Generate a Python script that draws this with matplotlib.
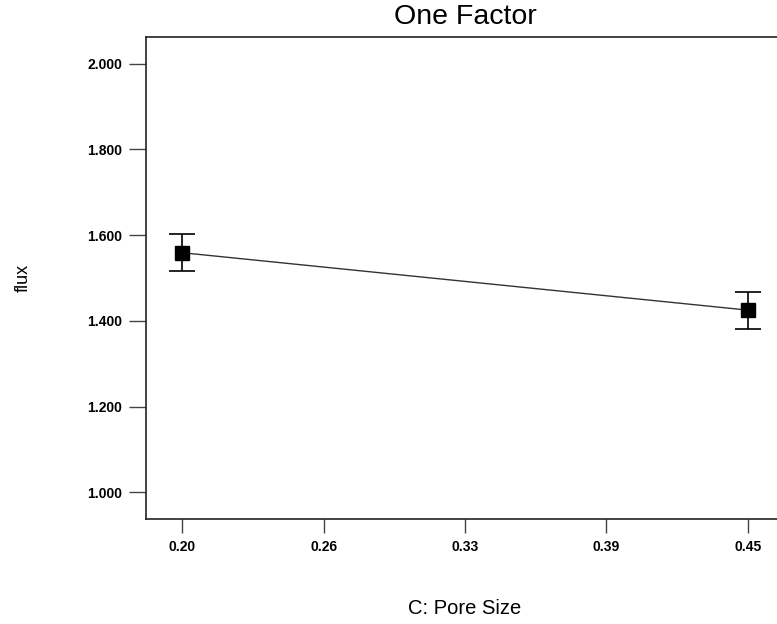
import matplotlib
matplotlib.use("Agg")
import matplotlib.pyplot as plt

# Data
pore_size = [0.20, 0.45]
flux_mean = [1.559, 1.425]
flux_err = [0.043, 0.043]

x_ticks = [0.20, 0.2625, 0.325, 0.3875, 0.45]
x_tick_labels = ["0.20", "0.26", "0.33", "0.39", "0.45"]
y_ticks = [1.0, 1.2, 1.4, 1.6, 1.8, 2.0]
y_tick_labels = ["1.000", "1.200", "1.400", "1.600", "1.800", "2.000"]

plt.rcParams["font.family"] = ["Liberation Sans", "DejaVu Sans"]

fig = plt.figure(figsize=(7.77, 6.24), dpi=100)
ax = fig.add_axes([0.188, 0.168, 0.821, 0.773])

ax.plot(pore_size, flux_mean, color="#333333", linewidth=1.0, zorder=2)
ax.errorbar(pore_size, flux_mean, yerr=flux_err, fmt="none", ecolor="black",
            elinewidth=1.2, capsize=9.7, capthick=1.2, zorder=3)
ax.plot(pore_size, flux_mean, linestyle="none", marker="s", markersize=10,
        color="black", zorder=4)

ax.set_xlim(0.184, 0.466)
ax.set_ylim(0.937, 2.063)

ax.set_xticks(x_ticks)
ax.set_xticklabels(x_tick_labels, fontsize=10, fontweight="bold")
ax.set_yticks(y_ticks)
ax.set_yticklabels(y_tick_labels, fontsize=10, fontweight="bold")
ax.tick_params(axis="y", direction="out", length=12, width=1.0, color="#444444", pad=5)
ax.tick_params(axis="x", direction="out", length=10, width=1.0, color="#444444", pad=5)

for s in ax.spines.values():
    s.set_color("#222222")
    s.set_linewidth(1.2)

ax.set_title("One Factor", fontsize=20.5, pad=9)
ax.set_xlabel("C: Pore Size", fontsize=14.5)
ax.xaxis.set_label_coords(0.5, -0.166)
ax.set_ylabel("flux", fontsize=13)
ax.yaxis.set_label_coords(-0.18, 0.5)

fig.savefig("out.png", dpi=100)
